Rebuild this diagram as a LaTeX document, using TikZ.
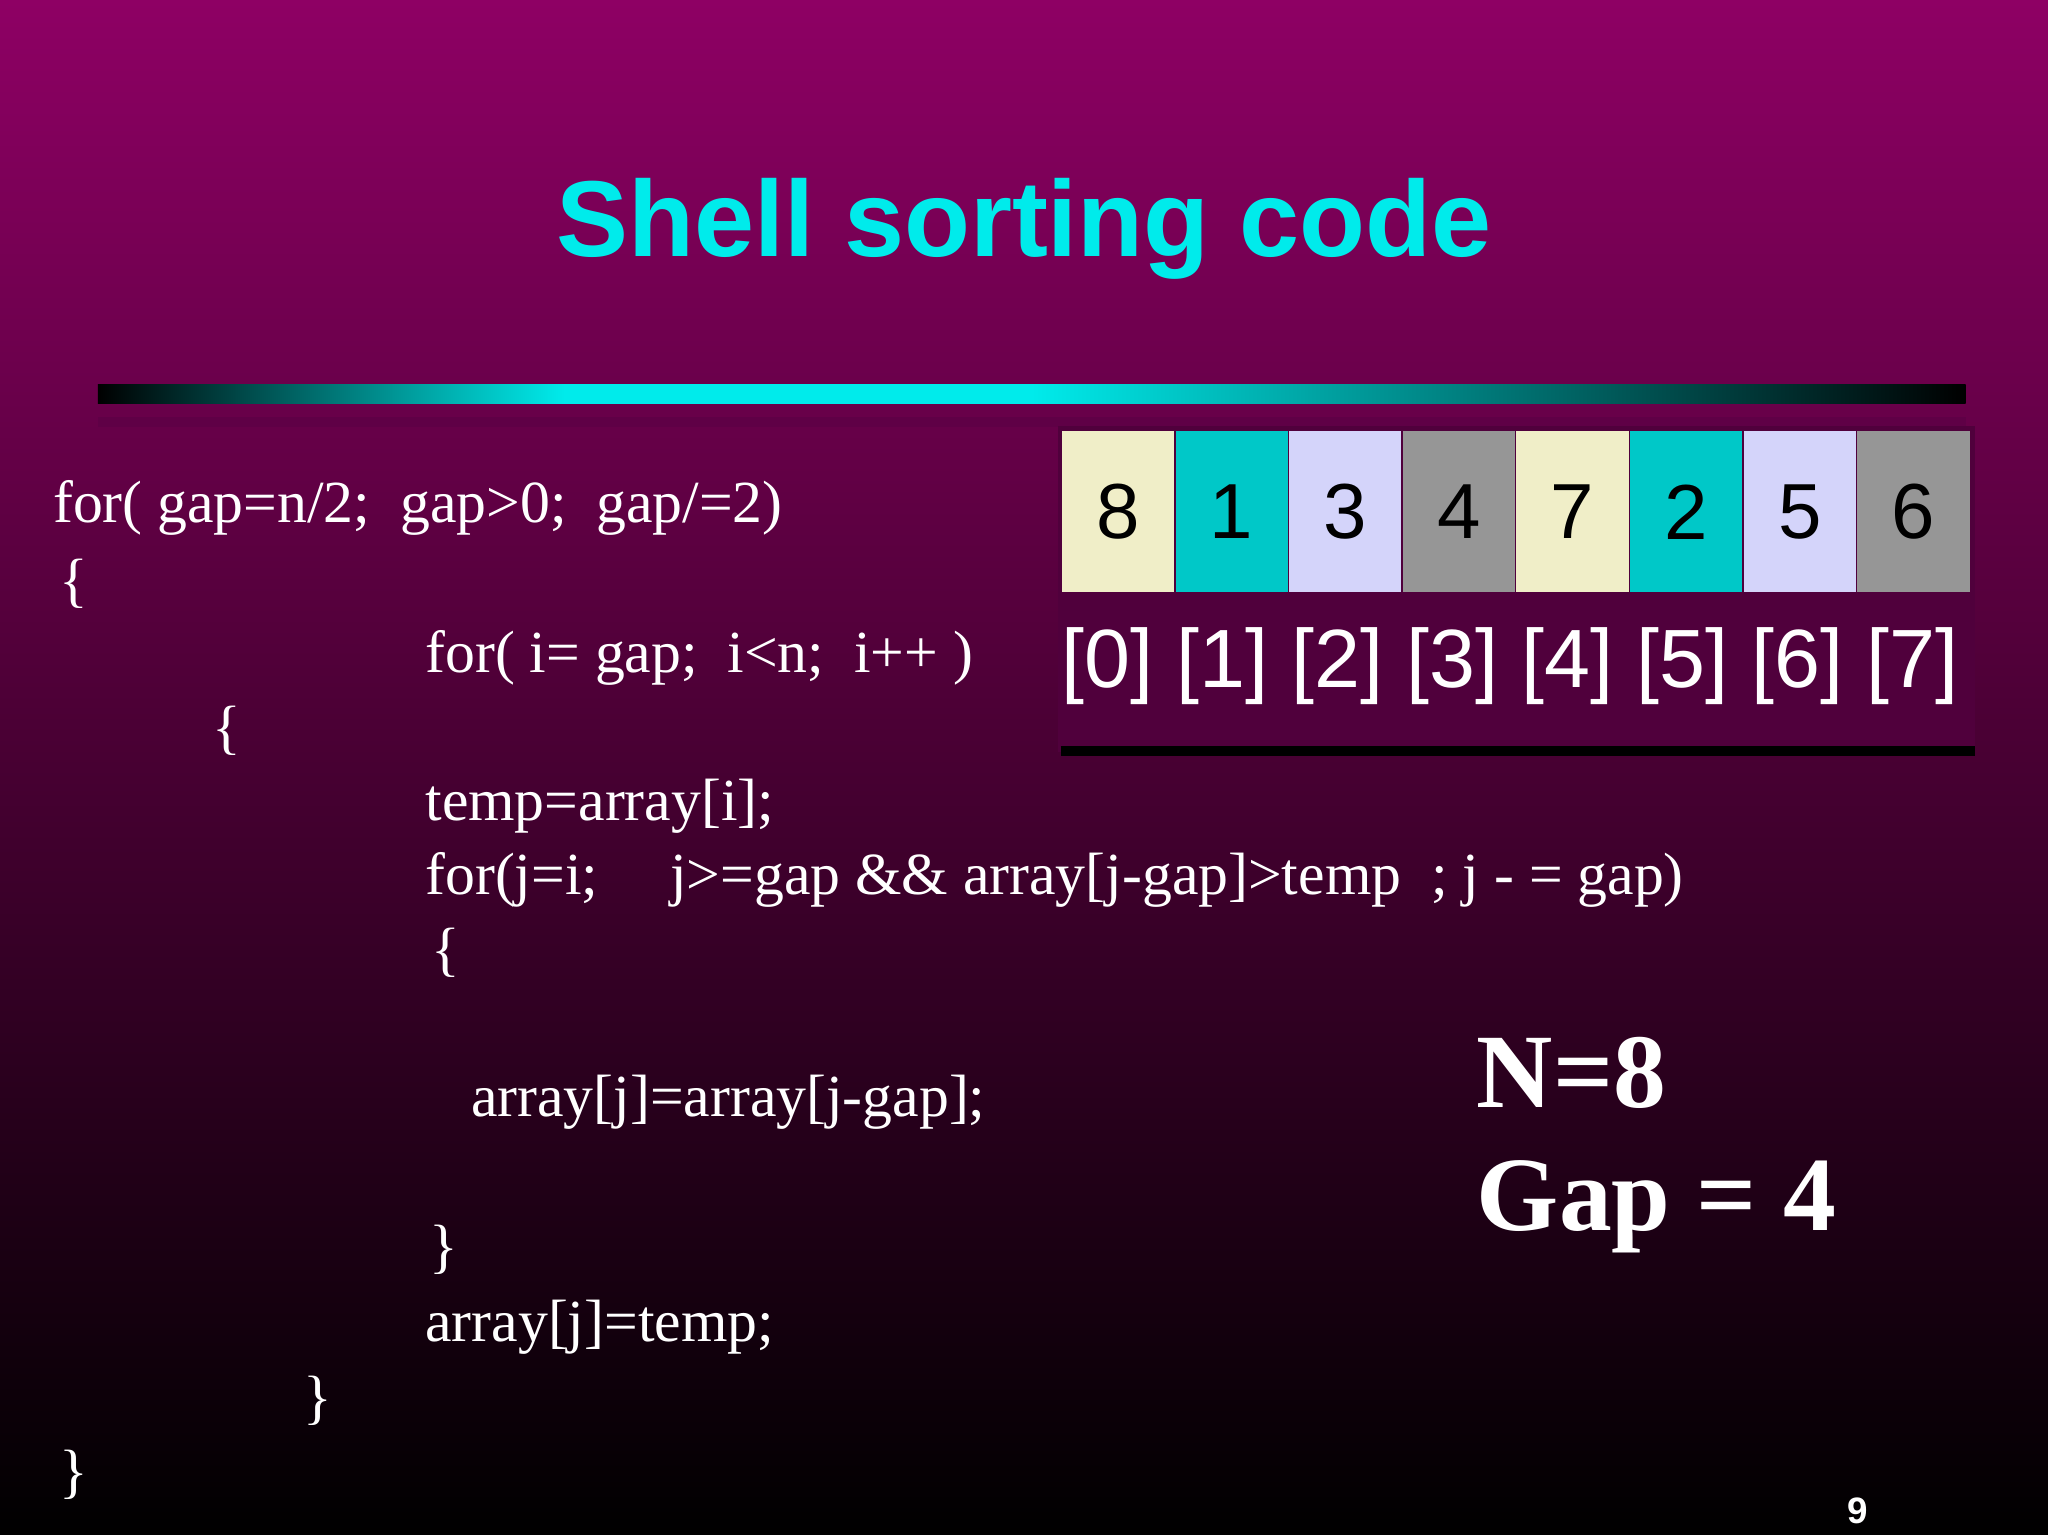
\documentclass[tikz,border=0pt]{standalone}
\usepackage{fontspec}
\setmainfont{Liberation Serif}
\setsansfont{Liberation Sans}
\begin{document}
\begin{tikzpicture}[x=0.01cm,y=-0.01cm,
  code/.style={anchor=base west,text=white,inner sep=0,font=\fontsize{13}{15}\selectfont},
  cell/.style={minimum width=86\pgflinewidth,inner sep=0,text=black,font=\sffamily\fontsize{17}{17}\selectfont},
  idx/.style={text=white,inner sep=0,font=\sffamily\fontsize{18}{18}\selectfont}]
\definecolor{topc}{RGB}{142,0,100}
\definecolor{cyanT}{RGB}{0,235,235}
\shade[top color=topc,bottom color=black] (0,0) rectangle (1568,1175);
\useasboundingbox (0,0) rectangle (1568,1175);
\node[text=cyanT,font=\sffamily\bfseries\fontsize{23.5}{26}\selectfont] (title) at (784,175) {Shell sorting code};
\shade[left color=black,right color=cyanT,middle color=cyanT] (75,294) rectangle (790,309);
\shade[left color=cyanT,right color=black] (790,294) rectangle (1505,309);
\fill[color={rgb,255:red,95;green,0;blue,70}] (75,319) rectangle (1505,327);
% array panel
\fill[color={rgb,255:red,80;green,0;blue,60}] (810,326) rectangle (1512,576);
\draw[black,line width=2pt] (812,575) -- (1512,575);
\foreach \i/\v/\c in {0/8/{rgb,255:red,240;green,238;blue,200},1/1/{rgb,255:red,0;green,200;blue,200},2/3/{rgb,255:red,212;green,212;blue,250},3/4/{rgb,255:red,150;green,150;blue,150},4/7/{rgb,255:red,240;green,238;blue,200},5/2/{rgb,255:red,0;green,200;blue,200},6/5/{rgb,255:red,212;green,212;blue,250},7/6/{rgb,255:red,150;green,150;blue,150}}{
  \fill[color=\c] (813+87*\i,330) rectangle (899+87*\i,453);
  \node[cell] (c\i) at (856+87*\i,392) {\v};
  \node[idx] (x\i) at (848+88*\i,510) {[\i]};
}
\node[code] (l1) at (40,400) {for( gap=n/2;\ \ gap>0;\ \ gap/=2)};
\node[code] (l2) at (45,460) {\{};
\node[code] (l3) at (325,515) {for( i= gap;\ \ i<n;\ \ i++ )};
\node[code] (l4) at (162,572) {\{};
\node[code] (l5) at (325,628) {temp=array[i];};
\node[code] (l6) at (325,685) {for(j=i;\hspace{0.55cm}j>=gap \&\& array[j-gap]>temp\ \ ; j - = gap)};
\node[code] (l7) at (330,742) {\{};
\node[code] (l8) at (360,855) {array[j]=array[j-gap];};
\node[code] (l9) at (328,970) {\}};
\node[code] (l10) at (325,1027) {array[j]=temp;};
\node[code] (l11) at (232,1085) {\}};
\node[code] (l12) at (45,1142) {\}};
\node[code,font=\bfseries\fontsize{23}{26}\selectfont] (n8) at (1130,848) {N=8};
\node[code,font=\bfseries\fontsize{23}{26}\selectfont] (g4) at (1130,942) {Gap = 4};
\node[text=white,font=\sffamily\bfseries\fontsize{8}{9}\selectfont] (pg) at (1422,1157) {9};
\end{tikzpicture}
\end{document}
